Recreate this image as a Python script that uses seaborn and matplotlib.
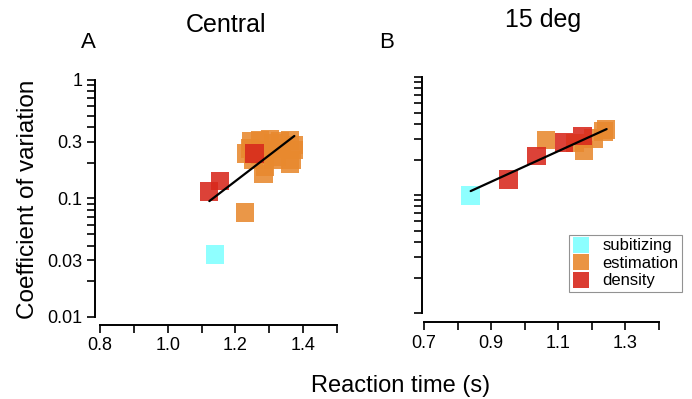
import numpy as np
import pandas as pd

import matplotlib
matplotlib.use("Agg")

import matplotlib.pyplot as plt
from matplotlib.lines import Line2D
import seaborn as sns

# -----------------------------
# Data
# -----------------------------
# Panel A - Central
central_rt = [1.231, 1.248, 1.273, 1.302, 1.332, 1.361, 1.371, 1.366, 1.361, 1.322,
              1.292, 1.287, 1.282, 1.312, 1.253, 1.337, 1.273, 1.312, 1.371, 1.243,
              1.228,
              1.122, 1.154, 1.257,
              1.140]
central_cv = [0.241, 0.302, 0.312, 0.316, 0.302, 0.307, 0.257, 0.211, 0.198, 0.225,
              0.257, 0.186, 0.161, 0.211, 0.211, 0.265, 0.233, 0.292, 0.283, 0.265,
              0.076,
              0.114, 0.140, 0.240,
              0.0338]
central_cond = ["estimation"] * 21 + ["density"] * 3 + ["subitizing"]
central_fit_rt = [1.123, 1.374]
central_fit_cv = [0.095, 0.337]

# Panel B - 15 deg
periph_rt = [1.063, 1.177, 1.204, 1.242, 1.235, 1.150,
             0.951, 1.036, 1.117, 1.173,
             0.839]
periph_cv = [0.292, 0.237, 0.300, 0.360, 0.345, 0.275,
             0.136, 0.214, 0.277, 0.316,
             0.0986]
periph_cond = ["estimation"] * 6 + ["density"] * 4 + ["subitizing"]
periph_fit_rt = [0.839, 1.244]
periph_fit_cv = [0.108, 0.362]

conditions = ["subitizing", "estimation", "density"]
palette = {"subitizing": "#80FFFF", "estimation": "#E8892E", "density": "#D8281C"}

y_ticks = [m * 10.0 ** e for e in (-2, -1) for m in range(1, 10)] + [1.0]
y_labels = {0.01: "0.01", 0.03: "0.03", 0.1: "0.1", 0.3: "0.3", 1.0: "1"}

# -----------------------------
# Style
# -----------------------------
sns.set_style("ticks")
plt.rcParams["font.family"] = ["Liberation Sans", "DejaVu Sans"]
plt.rcParams["text.color"] = "black"
plt.rcParams["xtick.color"] = "black"
plt.rcParams["ytick.color"] = "black"

fig = plt.figure(figsize=(6.92, 3.99), dpi=100)
ax_a = fig.add_axes([95 / 692, 1 - 325 / 399, (337 - 95) / 692, (325 - 80) / 399])
ax_b = fig.add_axes([422 / 692, 1 - 322 / 399, (659 - 422) / 692, (322 - 77) / 399])


def draw_panel(ax, rt, cv, cond, fit_rt, fit_cv, xmin, xmax, x_major, ylow, show_ylabels):
    df = pd.DataFrame({"rt": rt, "cv": cv, "cond": cond})
    sns.scatterplot(data=df, x="rt", y="cv", hue="cond", palette=palette,
                    marker="s", s=180, linewidth=0, alpha=0.88, legend=False, ax=ax)
    ax.plot(fit_rt, fit_cv, color="black", lw=1.6)

    ax.set_yscale("log")
    ax.set_ylim(ylow, 1.0)
    ax.set_xlim(xmin, xmax)

    xt = np.round(np.arange(x_major, xmax + 1e-9, 0.1), 2)
    ax.set_xticks(xt)
    ax.set_xticklabels([f"{v:.1f}" if i % 2 == 0 else "" for i, v in enumerate(xt)])
    ax.set_yticks(y_ticks)
    if show_ylabels:
        ax.set_yticklabels([y_labels.get(round(v, 4), "") for v in y_ticks])
    else:
        ax.set_yticklabels([])
    ax.yaxis.set_minor_locator(matplotlib.ticker.NullLocator())

    sns.despine(ax=ax)
    ax.spines["left"].set_bounds(0.01, 1.0)
    ax.spines["bottom"].set_bounds(x_major, xmax)
    for sp in ("left", "bottom"):
        ax.spines[sp].set_linewidth(1.4)
        ax.spines[sp].set_color("black")
    ax.tick_params(axis="both", length=6, width=1.2, color="black", labelcolor="black",
                   labelsize=13, pad=3, direction="out")
    ax.set_xlabel("")
    ax.set_ylabel("")


draw_panel(ax_a, central_rt, central_cv, central_cond, central_fit_rt, central_fit_cv,
           0.8 - 5 / 338.6, 1.5, 0.8, 0.00855, True)
draw_panel(ax_b, periph_rt, periph_cv, periph_cond, periph_fit_rt, periph_fit_cv,
           0.7 - 2 / 335.7, 1.4, 0.7, 0.0084, False)

# -----------------------------
# Legend
# -----------------------------
handles = [Line2D([], [], marker="s", linestyle="none", markersize=12,
                  markerfacecolor=palette[c], markeredgewidth=0, alpha=0.9)
           for c in conditions]
leg = ax_b.legend(handles, conditions, loc="upper right", bbox_to_anchor=(1.096, 0.355),
                  fontsize=12, frameon=True, fancybox=False, labelspacing=0.15,
                  handlelength=1.0, handletextpad=0.8, borderpad=0.2,
                  borderaxespad=0)
leg.get_frame().set_edgecolor("#777777")
leg.get_frame().set_linewidth(0.8)

# -----------------------------
# Titles and labels
# -----------------------------
fig.text(226 / 692, 1 - 32 / 399, "Central", fontsize=18, ha="center", va="baseline")
fig.text(543 / 692, 1 - 27 / 399, "15 deg", fontsize=18, ha="center", va="baseline")
fig.text(88 / 692, 1 - 48 / 399, "A", fontsize=16, ha="center", va="baseline")
fig.text(387 / 692, 1 - 48 / 399, "B", fontsize=16, ha="center", va="baseline")
fig.text(401 / 692, 1 - 392 / 399, "Reaction time (s)", fontsize=17,
         ha="center", va="baseline")
fig.text(28 / 692, 1 - 199 / 399, "Coefficient of variation", fontsize=17.5,
         ha="center", va="center", rotation=90)

plt.savefig("out.png", dpi=100)
plt.close()
